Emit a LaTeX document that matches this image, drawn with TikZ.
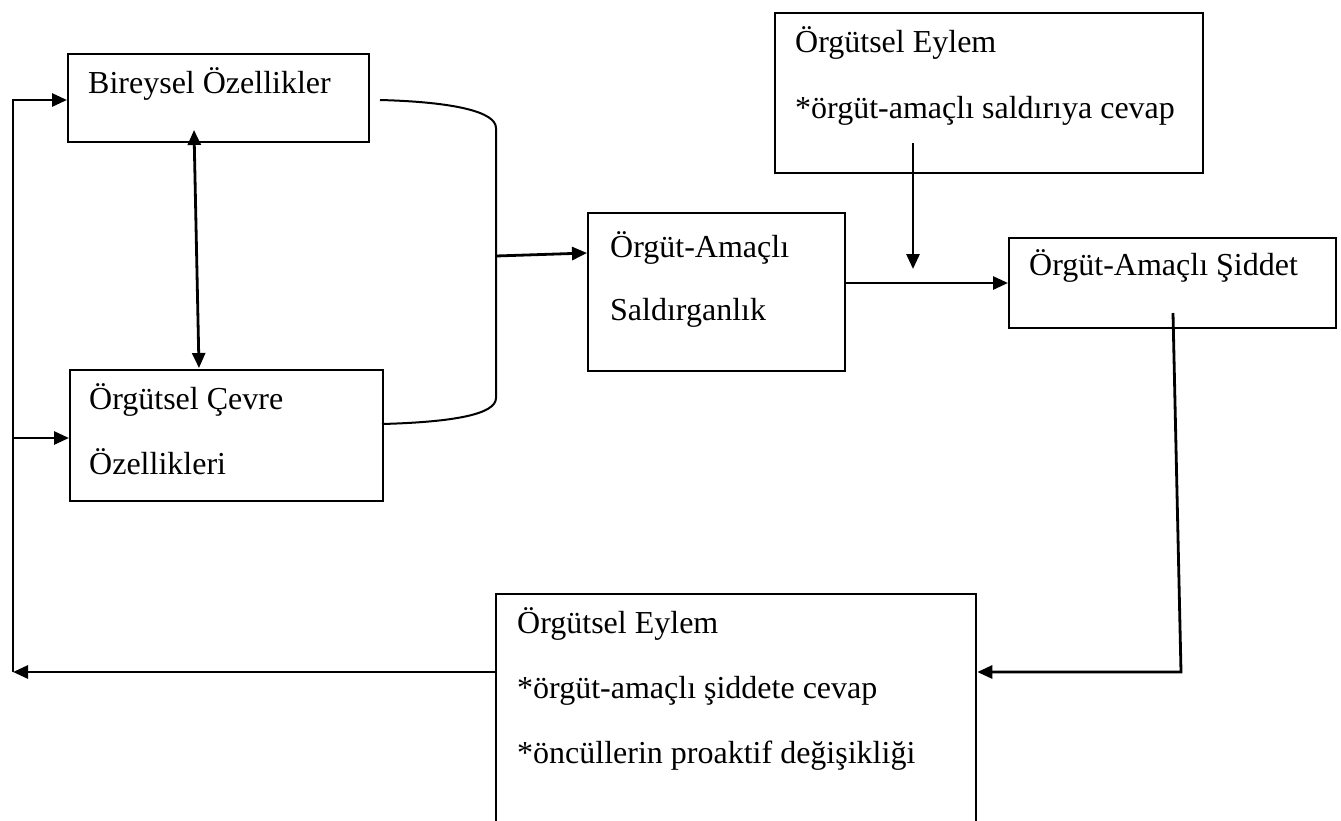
\documentclass[tikz,border=0pt]{standalone}
\usepackage{fontspec}
\setmainfont{Liberation Serif}
\usetikzlibrary{arrows.meta}
\begin{document}
\begin{tikzpicture}[x=1pt,y=-1pt,
  box/.style={draw=black,line width=2.3pt,rectangle,anchor=north west,inner sep=0pt},
  lbl/.style={anchor=base west,inner sep=0pt,font=\fontsize{32}{38}\selectfont},
  conn/.style={line width=2.8pt,-{Triangle[length=15pt,width=13pt]}},
  dconn/.style={line width=2.8pt,{Triangle[length=15pt,width=13pt]}-{Triangle[length=15pt,width=13pt]}},
  plain/.style={line width=2pt}]
\useasboundingbox (0,0) rectangle (1341,820);
\clip (0,0) rectangle (1341,820);
% boxes
\node[box,minimum width=301pt,minimum height=88pt] (bir) at (67,53) {};
\node[box,minimum width=313pt,minimum height=131pt] (cev) at (69,369) {};
\node[box,minimum width=257pt,minimum height=158pt] (sal) at (587,212) {};
\node[box,minimum width=428pt,minimum height=160pt] (ey1) at (774,12) {};
\node[box,minimum width=327pt,minimum height=90pt] (sid) at (1008,237) {};
\node[box,minimum width=480pt,minimum height=260pt] (ey2) at (495,593) {};
% texts
\node[lbl] (tbir) at (88,93) {Bireysel Özellikler};
\node[lbl] (tcev1) at (89,409) {Örgütsel Çevre};
\node[lbl] (tcev2) at (89,474) {Özellikleri};
\node[lbl] (tsal1) at (610,257) {Örgüt-Amaçlı};
\node[lbl] (tsal2) at (610,320) {Saldırganlık};
\node[lbl] (tey11) at (795,52) {Örgütsel Eylem};
\node[lbl] (tey12) at (795,118) {*örgüt-amaçlı saldırıya cevap};
\node[lbl] (tsid) at (1029,275) {Örgüt-Amaçlı Şiddet};
\node[lbl] (tey21) at (517,633) {Örgütsel Eylem};
\node[lbl] (tey22) at (517,698) {*örgüt-amaçlı şiddete cevap};
\node[lbl] (tey23) at (517,763) {*öncüllerin proaktif değişikliği};
% coordinates
\coordinate (fbBot) at (13,672);
\coordinate (fbTop) at (13,100);
\coordinate (fbMid) at (13,438);
\coordinate (dTop) at (194,130);
\coordinate (dBot) at (199,368);
\coordinate (brA) at (380,100);
\coordinate (brB) at (496,128);
\coordinate (brC) at (496,398);
\coordinate (brD) at (382,424);
\coordinate (brM) at (496,256);
\coordinate (eyDown) at (913,143);
\coordinate (eyTip) at (913,269);
\coordinate (sidOut) at (1173,313);
\coordinate (sidCorner) at (1181,672);
% connectors
\draw[conn] (ey2.west |- fbBot) -- (fbBot);
\draw[conn] (fbBot) -- (fbTop) -- (bir.west |- fbTop);
\draw[conn] (fbMid) -- (cev.west |- fbMid);
\draw[dconn] (dTop) -- (dBot);
\draw[plain] (brA) .. controls (455,102) and (496,112) .. (brB) -- (brC) .. controls (496,414) and (455,422) .. (brD);
\draw[conn] (brM) -- (sal.west |- 0,253);
\draw[conn] (sal.east |- 0,283) -- (sid.west |- 0,283);
\draw[conn] (eyDown) -- (eyTip);
\draw[conn] (sidOut) -- (sidCorner) -- (ey2.east |- sidCorner);
\end{tikzpicture}
\end{document}
